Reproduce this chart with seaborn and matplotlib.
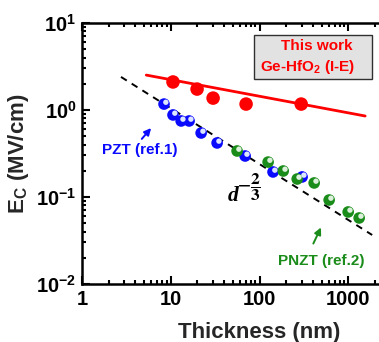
import matplotlib
matplotlib.use("Agg")
import matplotlib.pyplot as plt
import matplotlib.transforms as mtransforms
from matplotlib.patches import Rectangle
from matplotlib.font_manager import FontProperties
from matplotlib.ticker import LogLocator, FixedLocator, FixedFormatter, NullFormatter
import seaborn as sns
import pandas as pd

# ---------------- data ----------------
red_x = [10.6, 19.8, 30, 70.6, 295]
red_y = [2.1, 1.74, 1.37, 1.17, 1.17]

blue_x = [8.4, 10.6, 13.1, 16.1, 22, 33.3, 68.9, 142, 302]
blue_y = [1.17, 0.877, 0.748, 0.748, 0.544, 0.418, 0.296, 0.194, 0.170]

green_x = [55.9, 125, 185, 266, 413, 609, 998, 1327]
green_y = [0.338, 0.252, 0.199, 0.161, 0.145, 0.0924, 0.0673, 0.0574]

red_fit_x = [5.3, 1550]
red_fit_y = [2.52, 0.853]
guide_x = [2.75, 1860]
guide_y = [2.4, 0.0366]

xtick_vals = [1, 10, 100, 1000]
xtick_labels = ["1", "10", "100", "1000"]
ytick_vals = [0.01, 0.1, 1, 10]
ytick_labels = [r"$\mathbf{10^{-2}}$", r"$\mathbf{10^{-1}}$", r"$\mathbf{10^{0}}$", r"$\mathbf{10^{1}}$"]

# ---------------- style ----------------
sns.set_style("ticks")
plt.rcParams["font.family"] = ["Liberation Sans", "DejaVu Sans"]
plt.rcParams["font.weight"] = "bold"
plt.rcParams["mathtext.fontset"] = "custom"
plt.rcParams["mathtext.rm"] = "Liberation Sans:bold"
plt.rcParams["mathtext.bf"] = "Liberation Sans:bold"
plt.rcParams["mathtext.it"] = "Liberation Sans:bold"

def bold(size):
    return FontProperties(family="Liberation Sans", weight="bold", size=size)

fig = plt.figure(figsize=(3.79, 3.42), dpi=100)
W, H = 379, 342
left, right, top, bottom = 82, 437, 23, 284
ax = fig.add_axes([left / W, (H - bottom) / H, (right - left) / W, (bottom - top) / H])
ax.set_xscale("log")
ax.set_yscale("log")
ax.set_xlim(1, 10000)
ax.set_ylim(0.01, 10)

red_df = pd.DataFrame({"x": red_x, "y": red_y})
blue_df = pd.DataFrame({"x": blue_x, "y": blue_y})
green_df = pd.DataFrame({"x": green_x, "y": green_y})

# lines
sns.lineplot(x=red_fit_x, y=red_fit_y, ax=ax, color="#ff0000", lw=2.0, zorder=2)
sns.lineplot(x=guide_x, y=guide_y, ax=ax, color="black", lw=1.4, zorder=2,
             linestyle=(0, (3.5, 3)))

# red points
sns.scatterplot(data=red_df, x="x", y="y", ax=ax, color="#ff0000", s=95,
                edgecolor="none", zorder=4)

hl = mtransforms.offset_copy(ax.transData, fig=fig, x=1.8, y=1.8, units="dots")
for df, base, light in [(blue_df, "#0a0aff", "#dde6ff"), (green_df, "#1a8c1a", "#dcf0dc")]:
    sns.scatterplot(data=df, x="x", y="y", ax=ax, color=base, s=70,
                    edgecolor="none", zorder=3)
    ax.scatter(df["x"], df["y"], s=15, color=light, edgecolor="none",
               zorder=3.5, transform=hl)

# ticks
ax.xaxis.set_major_locator(FixedLocator(xtick_vals))
ax.xaxis.set_major_formatter(FixedFormatter(xtick_labels))
ax.xaxis.set_minor_locator(LogLocator(base=10, subs=range(2, 10)))
ax.xaxis.set_minor_formatter(NullFormatter())
ax.yaxis.set_major_locator(FixedLocator(ytick_vals))
ax.yaxis.set_major_formatter(FixedFormatter(ytick_labels))
ax.yaxis.set_minor_locator(LogLocator(base=10, subs=range(2, 10)))
ax.yaxis.set_minor_formatter(NullFormatter())
ax.tick_params(which="both", direction="in", top=True, right=True, width=1.5, colors="black")
ax.tick_params(which="major", length=6, labelsize=14, pad=4)
ax.tick_params(which="minor", length=3)
for lab in ax.get_xticklabels() + ax.get_yticklabels():
    lab.set_fontproperties(bold(14.5))
for sp in ax.spines.values():
    sp.set_linewidth(1.8)
    sp.set_color("black")

ax.set_xlabel("Thickness (nm)", fontproperties=bold(16), labelpad=10)
ax.set_ylabel(r"E$_\mathbf{C}$ (MV/cm)", fontproperties=bold(16), labelpad=4)

# legend-like box
ax.add_patch(Rectangle((0.4845, 0.785), 0.3325, 0.169, transform=ax.transAxes,
                       facecolor="#e2e2e2", edgecolor="#303030", lw=1.0, zorder=5))
ax.text(0.662, 0.912, "This work", transform=ax.transAxes, ha="center", va="center",
        color="#ff0000", fontproperties=bold(11), zorder=6)
ax.text(0.634, 0.831, r"Ge-HfO$_\mathbf{2}$ (I-E)", transform=ax.transAxes, ha="center",
        va="center", color="#ff0000", fontproperties=bold(11), zorder=6)

# annotations
ax.annotate("", xy=(6.3, 0.655), xytext=(4.5, 0.44),
            arrowprops=dict(arrowstyle="-|>", color="#0a0aff", lw=1.4, mutation_scale=10))
ax.text(4.5, 0.347, "PZT (ref.1)", ha="center", va="center", color="#0a0aff",
        fontproperties=bold(11))
ax.annotate("", xy=(508, 0.0477), xytext=(392, 0.0273),
            arrowprops=dict(arrowstyle="-|>", color="#1a8c1a", lw=1.4, mutation_scale=10))
ax.text(495, 0.0184, "PNZT (ref.2)", ha="center", va="center", color="#1a8c1a",
        fontproperties=bold(11))

# d^{-2/3} label
ax.text(0.4254, 0.318, "d", transform=ax.transAxes, ha="center", va="baseline",
        color="black", fontproperties=FontProperties(family="Liberation Serif",
                                                      style="italic", weight="bold", size=15.5))
ax.text(0.470, 0.3716, r"$\mathbf{-}\dfrac{\mathbf{2}}{\mathbf{3}}$", transform=ax.transAxes,
        ha="center", va="center", color="black", fontsize=12.5, math_fontfamily="stix")

fig.savefig("out.png", dpi=100)
